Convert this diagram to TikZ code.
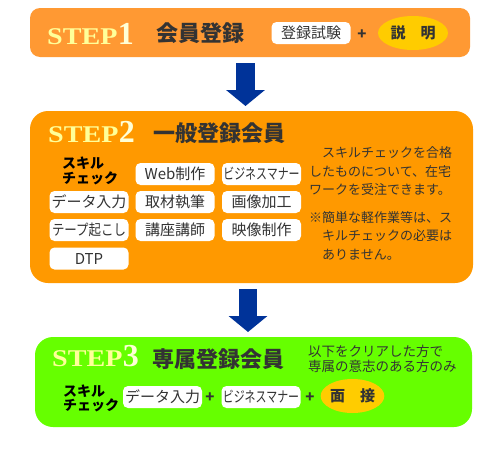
\documentclass[tikz,border=0pt]{standalone}
\usepackage{fontspec}
\usepackage{graphicx}
\usetikzlibrary{arrows.meta,positioning,shapes.geometric}
\newfontfamily\jp{Noto Sans CJK JP}
\newfontfamily\stepfont{Liberation Serif}
\definecolor{orangeA}{HTML}{FF9933}
\definecolor{orangeB}{HTML}{FF9900}
\definecolor{greenC}{HTML}{66FF00}
\definecolor{ovalY}{HTML}{FFCC00}
\definecolor{arrowB}{HTML}{003399}
\definecolor{stepY}{HTML}{FFFF99}
\definecolor{darkT}{HTML}{333333}

\begin{document}
\begin{tikzpicture}[x=1pt,y=-1pt,
  every node/.style={inner sep=0pt,font=\jp},
  panel/.style={rounded corners=#1},
  item/.style={fill=white,rounded corners=5pt,minimum width=79pt,minimum height=22pt,text=darkT,font=\jp\fontsize{15}{15}\selectfont},
  oval/.style={ellipse,fill=ovalY,text=darkT,font=\jp\bfseries\fontsize{15}{15}\selectfont},
  steplbl/.style={text=stepY,font=\stepfont\bfseries\fontsize{24}{24}\selectfont,anchor=base west},
  stepnum/.style={text=stepY!40!white,font=\stepfont\bfseries\fontsize{32}{32}\selectfont,anchor=base west},
  title/.style={text=darkT,font=\jp\bfseries\fontsize{22}{22}\selectfont},
  plus/.style={text=darkT,font=\jp\bfseries\fontsize{15}{15}\selectfont},
  skill/.style={align=left,anchor=west,text=black,font=\jp\bfseries\fontsize{14}{14.5}\selectfont},
  note/.style={align=left,anchor=north west,text=darkT},
  bigarrow/.style={arrowB,line width=18.5pt,-{Triangle[width=38pt,length=16pt]}}]
\useasboundingbox[fill=white] (0,0) rectangle (504,453);

% panels
\node[panel=10pt,fill=orangeA,minimum width=440pt,minimum height=49pt] (box1) at (250,32.5) {};
\node[panel=18pt,fill=orangeB,minimum width=443pt,minimum height=172pt] (box2) at (251.5,197) {};
\node[panel=18pt,fill=greenC,minimum width=437pt,minimum height=90pt] (box3) at (253.5,382) {};

% arrows
\coordinate (a1s) at (245.5,63);
\coordinate (a1e) at (245.5,106);
\coordinate (a2s) at (248,289);
\coordinate (a2e) at (248,332);
\draw[bigarrow] (a1s) -- (a1e);
\draw[bigarrow] (a2s) -- (a2e);

% step 1
\node[steplbl] (s1) at (47,44) {\scalebox{1.17}[1]{STEP}};
\node[stepnum] (n1) at (s1.base east) {1};
\node[title] (t1) at (200,33) {会員登録};
\node[item] (exam) at (311,33) {登録試験};
\node[plus] (p0) at (362,35) {+};
\node[oval,minimum width=70pt,minimum height=34pt] (expl) at (413,33) {説　明};

% step 2
\node[steplbl] (s2) at (48,142.5) {\scalebox{1.17}[1]{STEP}};
\node[stepnum] (n2) at (s2.base east) {2};
\node[title] (t2) at (219.5,133) {一般登録会員};
\node[skill] (sk2) at (62,171) {スキル\\チェック};
\node[item] (web) at (175,174) {Web制作};
\node[item] (biz) at (261.5,174) {\scalebox{.73}[1]{ビジネスマナー}};
\node[item] (data) at (89,202) {データ入力};
\node[item] (intv) at (175,202) {取材執筆};
\node[item] (img) at (261.5,202) {画像加工};
\node[item] (tape) at (89,230) {\scalebox{.83}[1]{テープ起こし}};
\node[item] (lect) at (175,230) {講座講師};
\node[item] (video) at (261.5,230) {映像制作};
\node[item] (dtp) at (89,258.5) {DTP};
\node[note,font=\jp\fontsize{13}{18.5}\selectfont] (note2) at (309,146.5)
  {　スキルチェックを合格\\したものについて、在宅\\ワークを受注できます。\\[9pt]
   ※簡単な軽作業等は、ス\\　キルチェックの必要は\\　ありません。};

% step 3
\node[steplbl] (s3) at (52,366.5) {\scalebox{1.17}[1]{STEP}};
\node[stepnum] (n3) at (s3.base east) {3};
\node[title] (t3) at (218.5,359) {専属登録会員};
\node[note,font=\jp\fontsize{13.5}{15}\selectfont] (note3) at (308,345)
  {以下をクリアした方で\\専属の意志のある方のみ};
\node[skill] (sk3) at (63,398.5) {スキル\\チェック};
\node[item] (data3) at (162.5,397) {データ入力};
\node[plus] (p1) at (210,398) {+};
\node[item] (biz3) at (261,397) {\scalebox{.73}[1]{ビジネスマナー}};
\node[plus] (p2) at (310,398) {+};
\node[oval,minimum width=61pt,minimum height=34pt] (intv3) at (352.5,396) {面　接};
\end{tikzpicture}
\end{document}
